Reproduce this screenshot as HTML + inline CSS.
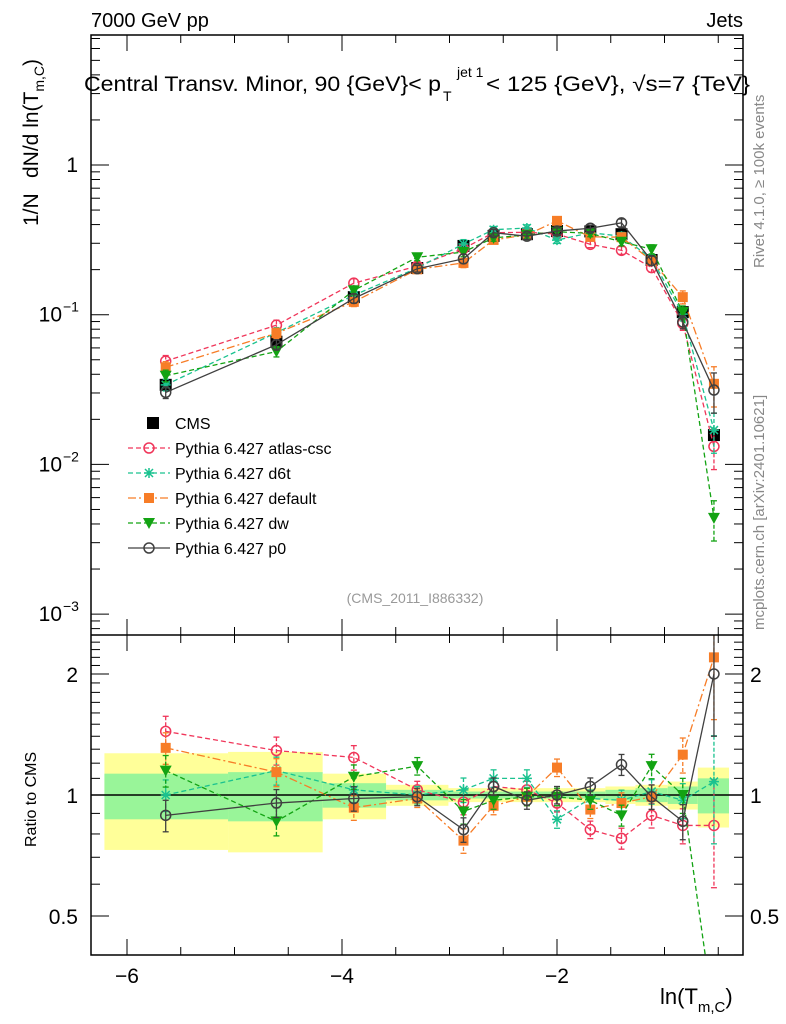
<!DOCTYPE html>
<html><head><meta charset="utf-8"><style>
html,body{margin:0;padding:0;background:#fff;overflow:hidden;width:786px;height:1024px}
svg{display:block;font-family:"Liberation Sans",sans-serif}
</style></head><body>
<svg id="c" width="786" height="1024" xmlns="http://www.w3.org/2000/svg"></svg>
<script>
const xCenters=[-5.64,-4.61,-3.89,-3.30,-2.87,-2.59,-2.28,-2.0,-1.69,-1.40,-1.12,-0.83,-0.54];
const binEdges=[-6.21,-5.06,-4.18,-3.59,-3.01,-2.71,-2.43,-2.13,-1.85,-1.55,-1.27,-0.97,-0.69,-0.40];
const cmsValues=[0.034,0.066,0.131,0.205,0.288,0.336,0.345,0.362,0.36,0.345,0.232,0.104,0.0157];
const cmsErr=[0.10,0.08,0.06,0.04,0.03,0.03,0.03,0.03,0.03,0.04,0.05,0.06,0.12];
const yellowErr=[0.27,0.28,0.13,0.06,0.04,0.04,0.04,0.04,0.04,0.05,0.06,0.08,0.17];
const greenErr=[0.13,0.14,0.07,0.03,0.02,0.02,0.02,0.02,0.02,0.03,0.04,0.05,0.10];
const ratioAtlas=[1.44,1.29,1.24,1.03,0.96,1.05,1.03,0.955,0.82,0.78,0.89,0.84,0.84];
const ratioD6t=[1.0,1.15,1.03,1.0,1.03,1.10,1.10,0.87,0.98,0.97,1.02,0.97,1.08];
const ratioDefault=[1.31,1.14,0.93,0.98,0.77,0.94,0.99,1.17,0.92,0.955,0.99,1.26,2.2];
const ratioDw=[1.15,0.86,1.11,1.18,0.91,0.97,0.99,0.99,0.97,0.89,1.18,1.0,0.28];
const ratioP0=[0.89,0.955,0.98,0.99,0.82,1.05,0.97,1.0,1.05,1.19,0.99,0.86,2.0];
const mcErr=[0.09,0.08,0.07,0.05,0.07,0.05,0.05,0.05,0.05,0.06,0.07,0.10,0.30];

const NS="http://www.w3.org/2000/svg",svg=document.getElementById('c');
const L=91,R=743,T=35,MB=635,RB=955;
const X=v=>127+(v+6)*107.5;
const Ym=v=>165-149.7*Math.log10(v);
const Yr=v=>795-402*Math.log10(v);
function el(tag,at,parent){const e=document.createElementNS(NS,tag);for(const k in at)e.setAttribute(k,at[k]);(parent||svg).appendChild(e);return e;}
const defs=el('defs',{});
const c1=el('clipPath',{id:'cm'},defs);el('rect',{x:L,y:T,width:R-L,height:MB-T},c1);
const c2=el('clipPath',{id:'cr'},defs);el('rect',{x:L,y:MB,width:R-L,height:RB-MB},c2);

const gb=el('g',{'clip-path':'url(#cr)'});

for(let i=0;i<xCenters.length;i++){
  const x0=X(binEdges[i]),x1=X(binEdges[i+1]);
  const y=el('rect',{x:x0,y:Yr(1+yellowErr[i]),width:x1-x0,height:Yr(1-yellowErr[i])-Yr(1+yellowErr[i]),fill:'#ffff99'},gb);
  
  const g=el('rect',{x:x0,y:Yr(1+greenErr[i]),width:x1-x0,height:Yr(1-greenErr[i])-Yr(1+greenErr[i]),fill:'#99f599'},gb);
  
}
el('line',{x1:L,x2:R,y1:Yr(1),y2:Yr(1),stroke:'#000','stroke-width':1.5});

const series=[
 {name:'atlas-csc',r:ratioAtlas,c:'#f0365a',m:'circle',d:'5,3'},
 {name:'d6t',r:ratioD6t,c:'#1ac28f',m:'star',d:'5,3'},
 {name:'default',r:ratioDefault,c:'#f77d27',m:'square',d:'8,3,2,3'},
 {name:'dw',r:ratioDw,c:'#13a313',m:'tri',d:'5,3'},
 {name:'p0',r:ratioP0,c:'#404040',m:'ocircle',d:''}
];
function marker(g,m,x,y,c){
  if(m==='circle'||m==='ocircle')return el('circle',{cx:x,cy:y,r:5,fill:'none',stroke:c,'stroke-width':1.5},g);
  if(m==='square')return el('rect',{x:x-5,y:y-5,width:10,height:10,fill:c},g);
  if(m==='tri')return el('path',{d:`M${x-6},${y-5}L${x+6},${y-5}L${x},${y+6}Z`,fill:c},g);
  if(m==='star')return el('path',{d:`M${x-5},${y}H${x+5}M${x},${y-5}V${y+5}M${x-4},${y-4}L${x+4},${y+4}M${x-4},${y+4}L${x+4},${y-4}`,stroke:c,'stroke-width':1.5},g);
  if(m==='cms')return el('rect',{x:x-6,y:y-6,width:12,height:12,fill:'#000'},g);
}
function drawSeries(s,panel){
  const clip=panel==='main'?'url(#cm)':'url(#cr)';
  const g=el('g',{'clip-path':clip});
  
  
  const pts=xCenters.map((x,i)=>{const v=panel==='main'?cmsValues[i]*s.r[i]:s.r[i];const Y=panel==='main'?Ym:Yr;return [X(x),Y(v),Y(v*(1+mcErr[i])),Y(Math.max(v*(1-mcErr[i]),1e-5))];});
  el('polyline',{points:pts.map(p=>p[0]+','+p[1]).join(' '),fill:'none',stroke:s.c,'stroke-width':1.3,'stroke-dasharray':s.d},g);
  pts.forEach(p=>{
    el('line',{x1:p[0],x2:p[0],y1:p[2],y2:p[3],stroke:s.c,'stroke-width':1.3,'stroke-dasharray':s.d?'4,2':''},g);
    el('line',{x1:p[0]-3,x2:p[0]+3,y1:p[2],y2:p[2],stroke:s.c,'stroke-width':1.3},g);
    el('line',{x1:p[0]-3,x2:p[0]+3,y1:p[3],y2:p[3],stroke:s.c,'stroke-width':1.3},g);
    const mk=marker(g,s.m,p[0],p[1],s.c);
    
    
  });
}
const gc=el('g',{'clip-path':'url(#cm)'});

xCenters.forEach((x,i)=>{
  const v=cmsValues[i];
  el('line',{x1:X(x),x2:X(x),y1:Ym(v*(1+cmsErr[i])),y2:Ym(v*(1-cmsErr[i])),stroke:'#000','stroke-width':1.3},gc);
  const mk=marker(gc,'cms',X(x),Ym(v),'#000');
  
  
});
series.forEach(s=>{drawSeries(s,'main');drawSeries(s,'ratio');});

el('rect',{x:L,y:T,width:R-L,height:RB-T,fill:'none',stroke:'#000','stroke-width':1.5});
el('line',{x1:L,x2:R,y1:MB,y2:MB,stroke:'#000','stroke-width':1.5});

function txt(s,x,y,size,anchor,at){const t=el('text',Object.assign({x:x,y:y,'font-size':size,'text-anchor':anchor||'start',fill:'#000'},at||{}));t.textContent=s;return t;}
for(let v=-6;v<=-0.3;v+=0.5){
  const big=Math.abs(v-Math.round(v))<1e-6&&Math.round(v)%2===0;
  const len=big?16:8;
  [T,MB].forEach(y0=>el('line',{x1:X(v),x2:X(v),y1:y0,y2:y0+len,stroke:'#000'}));
  [MB,RB].forEach(y0=>el('line',{x1:X(v),x2:X(v),y1:y0,y2:y0-len,stroke:'#000'}));
}
const xTickLabels=['−6','−4','−2'];const xTickVals=[-6,-4,-2];
xTickVals.forEach((v,i)=>{const t=txt(xTickLabels[i],X(v),983,21,'middle');});
for(let d=-4;d<=0;d++){for(let k=1;k<10;k++){const v=k*Math.pow(10,d);const y=Ym(v);if(y<T||y>MB)continue;const len=k===1?18:9;
 el('line',{x1:L,x2:L+len,y1:y,y2:y,stroke:'#000'});el('line',{x1:R,x2:R-len,y1:y,y2:y,stroke:'#000'});}}
const yMainVals=[1,0.1,0.01,0.001];
yMainVals.forEach((v,i)=>{const y=Ym(v);const g=el('g',{});
 if(i===0){const t=txt('1',78,y+7,21,'end');g.appendChild(t);}else{const t=el('text',{x:62,y:y+7,'font-size':21,'text-anchor':'end'},g);t.textContent='10';const s=el('text',{x:63,y:y-3,'font-size':14},g);s.textContent='−'+i;}});
const rMinor=[0.4,0.5,0.6,0.7,0.8,0.9,1,1.1,1.2,1.3,1.4,1.5,1.6,1.7,1.8,1.9,2,2.1,2.2,2.3,2.4,2.5];
rMinor.forEach(v=>{const y=Yr(v);if(y<MB||y>RB)return;const len=(v===0.5||v===1||v===2)?18:9;el('line',{x1:L,x2:L+len,y1:y,y2:y,stroke:'#000'});el('line',{x1:R,x2:R-len,y1:y,y2:y,stroke:'#000'});});
const rLabels=['0.5','1','2'];const rVals=[0.5,1,2];
rVals.forEach((v,i)=>{let t=txt(rLabels[i],78,Yr(v)+8,21,'end');
 t=txt(rLabels[i],750,Yr(v)+8,21,'start');});

let t=txt('7000 GeV pp',91,27,20);
t=txt('Jets',743,27,20,'end');
const tg=el('g',{});
t=el('text',{x:84,y:91,'font-size':21,textLength:357,lengthAdjust:'spacingAndGlyphs'},tg);t.textContent='Central Transv. Minor, 90 {GeV}< p';
t=el('text',{x:443,y:101,'font-size':14},tg);t.textContent='T';
t=el('text',{x:457,y:77,'font-size':14},tg);t.textContent='jet 1';
t=el('text',{x:486,y:91,'font-size':21,textLength:264,lengthAdjust:'spacingAndGlyphs'},tg);t.textContent='< 125 {GeV}, √s=7 {TeV}';

const yt=el('g',{});
t=el('text',{x:0,y:0,'font-size':21,transform:'translate(38,226) rotate(-90)'},yt);t.textContent='1/N';
t=el('text',{x:0,y:0,'font-size':21,transform:'translate(38,178) rotate(-90)'},yt);
t.innerHTML='dN/d ln(T<tspan font-size="14" dy="6">m,C</tspan><tspan dy="-6">)</tspan>';
t=txt('Ratio to CMS',0,0,16,'start',{transform:'translate(36,847) rotate(-90)'});

t=el('text',{x:660,y:1004,'font-size':22});t.innerHTML='ln(T<tspan font-size="15" dy="8">m,C</tspan><tspan dy="-8">)</tspan>';

t=txt('(CMS_2011_I886332)',415,603,14,'middle',{fill:'#999'});
t=txt('Rivet 4.1.0, ≥ 100k events',0,0,15,'start',{fill:'#888',transform:'translate(764,268) rotate(-90)'});
t=txt('mcplots.cern.ch [arXiv:2401.10621]',0,0,15,'start',{fill:'#888',transform:'translate(764,630) rotate(-90)'});

const legendNames=['CMS','Pythia 6.427 atlas-csc','Pythia 6.427 d6t','Pythia 6.427 default','Pythia 6.427 dw','Pythia 6.427 p0'];
legendNames.forEach((n,i)=>{const y=423+25*i;const g=el('g',{});
 if(i===0){marker(g,'cms',153,y,'#000');}else{const s=series[i-1];el('line',{x1:128,x2:170,y1:y,y2:y,stroke:s.c,'stroke-width':1.3,'stroke-dasharray':s.d},g);marker(g,s.m,149,y,s.c);}
 const tt=el('text',{x:175,y:y+6,'font-size':16},g);tt.textContent=n;});
</script>
</body></html>
